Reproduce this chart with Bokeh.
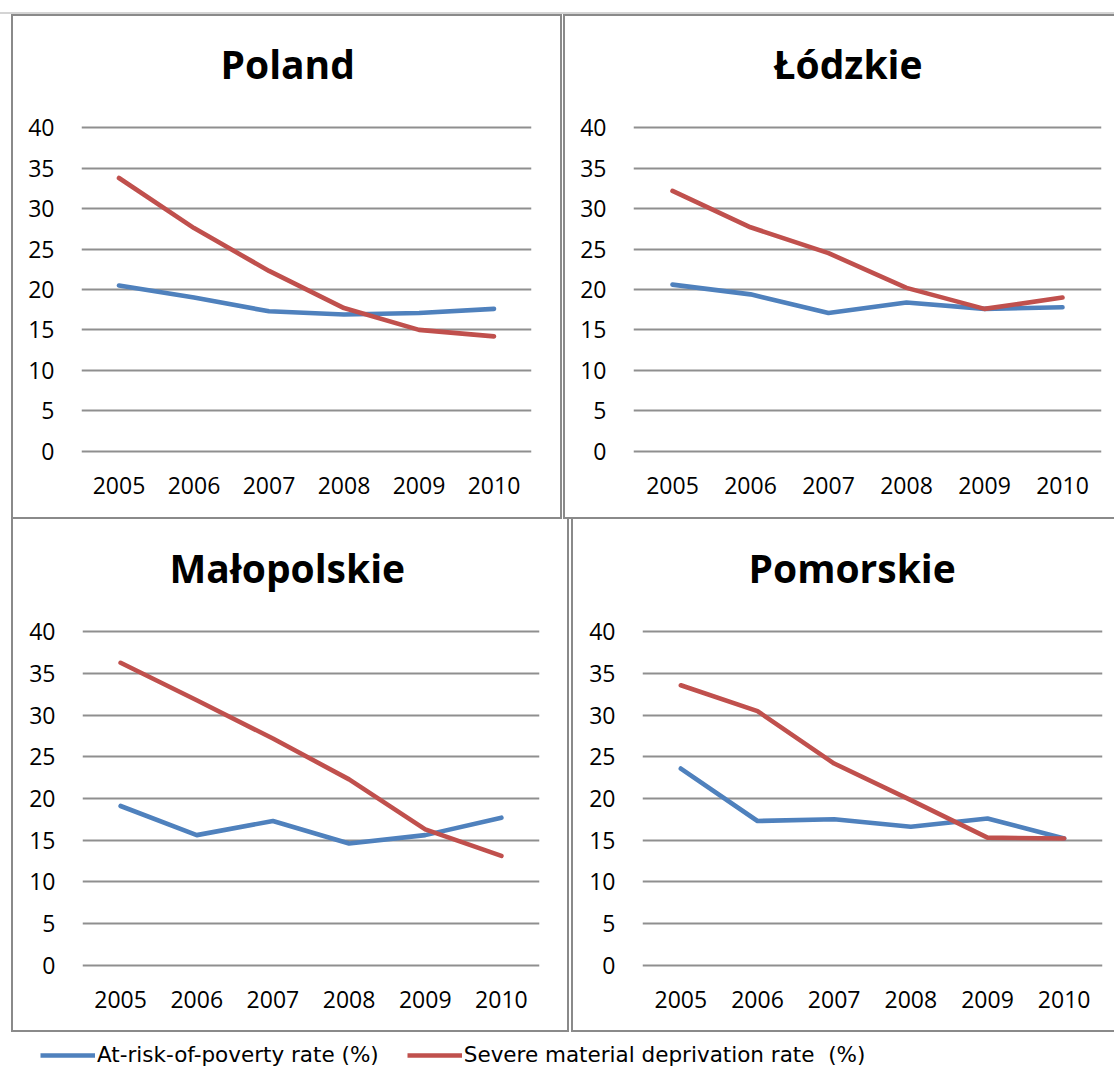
from bokeh.plotting import figure
from bokeh.models import (FactorRange, Range1d, FixedTicker, Legend, LegendItem,
                          Spacer, Title, GlobalInlineStyleSheet)
from bokeh.layouts import column, row
from bokeh.embed import file_html
from bokeh.resources import INLINE

# ---------------- data ----------------
years = ["2005", "2006", "2007", "2008", "2009", "2010"]
y_ticks = [0, 5, 10, 15, 20, 25, 30, 35, 40]
series_labels = ["At-risk-of-poverty rate (%)", "Severe material deprivation rate  (%)"]

poland_poverty = [20.5, 19.0, 17.3, 16.9, 17.1, 17.6]
poland_deprivation = [33.8, 27.6, 22.3, 17.7, 15.0, 14.2]

lodzkie_poverty = [20.6, 19.4, 17.1, 18.4, 17.6, 17.8]
lodzkie_deprivation = [32.2, 27.7, 24.5, 20.2, 17.6, 19.0]

malopolskie_poverty = [19.1, 15.6, 17.3, 14.6, 15.6, 17.7]
malopolskie_deprivation = [36.3, 31.8, 27.2, 22.3, 16.3, 13.1]

pomorskie_poverty = [23.6, 17.3, 17.5, 16.6, 17.6, 15.2]
pomorskie_deprivation = [33.6, 30.5, 24.2, 19.8, 15.3, 15.2]

# ---------------- style ----------------
BLUE = "#4F81BD"
RED = "#C0504D"
GRID = "#8f8f8f"
EDGE = "#8a8a8a"
TICK_FONT = "Open Sans"


def panel(title, poverty, deprivation, width, height, mb, shadow, title_offset):
    left, right, top, bottom = mb
    p = figure(x_range=FactorRange(*years), y_range=Range1d(-0.3, 40.3),
               width=width, height=height, toolbar_location=None,
               output_backend="svg",
               min_border_left=left, min_border_right=right,
               min_border_top=top, min_border_bottom=bottom)
    p.background_fill_color = None
    p.border_fill_color = None
    p.outline_line_color = None
    p.styles = {"background-color": "white", "box-shadow": shadow}

    p.title.text = title
    p.title.text_font = "Open Sans"
    p.title.text_font_style = "bold"
    p.title.text_font_size = "39px"
    p.title.text_color = "black"
    p.title.align = "left"
    p.title.offset = title_offset
    p.title.standoff = 0
    # blank spacer title between the heading and the plot area
    p.add_layout(Title(text=" ", text_font_size="1px", standoff=33), "above")

    p.yaxis.ticker = FixedTicker(ticks=y_ticks)
    p.ygrid.ticker = FixedTicker(ticks=y_ticks)
    p.ygrid.grid_line_color = GRID
    p.ygrid.grid_line_width = 1.8
    p.xgrid.visible = False

    for ax in (p.xaxis[0], p.yaxis[0]):
        ax.axis_line_color = None
        ax.major_tick_line_color = None
        ax.minor_tick_line_color = None
        ax.major_label_text_font = TICK_FONT
        ax.major_label_text_font_size = "23px"
        ax.major_label_text_color = "black"
    p.yaxis.major_label_standoff = 21
    p.xaxis.major_label_standoff = 17

    p.line(x=years, y=poverty, line_color=BLUE, line_width=4.6,
           line_join="round", line_cap="round")
    p.line(x=years, y=deprivation, line_color=RED, line_width=4.6,
           line_join="round", line_cap="round")
    return p


ALL = f"inset 0 0 0 2px {EDGE}"
NO_RIGHT = f"inset 2px 0 0 0 {EDGE}, inset 0 2px 0 0 {EDGE}, inset 0 -2px 0 0 {EDGE}"
BL_SH = f"inset 2px 0 0 0 {EDGE}, inset -2px 0 0 0 {EDGE}, inset 0 -2px 0 0 {EDGE}"
BR_SH = f"inset 2px 0 0 0 {EDGE}, inset 0 -2px 0 0 {EDGE}"

p_tl = panel("Poland", poland_poverty, poland_deprivation,
             551, 505, (70, 31, 111, 66), ALL, 139)
p_tr = panel("Łódzkie", lodzkie_poverty, lodzkie_deprivation,
             551, 505, (70, 13, 111, 66), NO_RIGHT, 140)
p_bl = panel("Małopolskie", malopolskie_poverty, malopolskie_deprivation,
             558, 513, (71, 30, 110, 65), BL_SH, 87)
p_br = panel("Pomorskie", pomorskie_poverty, pomorskie_deprivation,
             543, 513, (71, 12, 110, 65), BR_SH, 106)

# legend strip
lf = figure(width=1114, height=36, x_range=FactorRange(*years), y_range=Range1d(0, 1),
            toolbar_location=None, output_backend="svg", min_border=0)
lf.outline_line_color = None
lf.axis.visible = False
lf.grid.visible = False
r1 = lf.line(x=years[:1], y=poland_poverty[:1], line_color=BLUE, line_width=4.6)
r2 = lf.line(x=years[:1], y=poland_deprivation[:1], line_color=RED, line_width=4.6)
legend = Legend(items=[LegendItem(label=series_labels[0], renderers=[r1]),
                       LegendItem(label=series_labels[1], renderers=[r2])],
                orientation="horizontal", location=(40, 1))
legend.border_line_color = None
legend.background_fill_alpha = 0
legend.padding = 0
legend.margin = 0
legend.spacing = 28
legend.glyph_width = 55
legend.glyph_height = 20
legend.label_height = 20
legend.label_standoff = 2
legend.label_text_font = "DejaVu Sans"
legend.label_text_font_size = "21.5px"
legend.label_text_color = "black"
lf.add_layout(legend, "center")

header = Spacer(width=1114, height=14, styles={"box-shadow": "inset 0 -2px 0 0 #d4d4d4"})

layout = column(
    header,
    row(Spacer(width=11, height=505), p_tl, Spacer(width=1, height=505), p_tr),
    row(Spacer(width=11, height=513), p_bl, Spacer(width=2, height=513), p_br),
    lf,
)
layout.stylesheets = [GlobalInlineStyleSheet(
    css="html, body { margin: 0 !important; padding: 0 !important; overflow: hidden; }")]

open("out.html", "w").write(file_html(layout, INLINE))
